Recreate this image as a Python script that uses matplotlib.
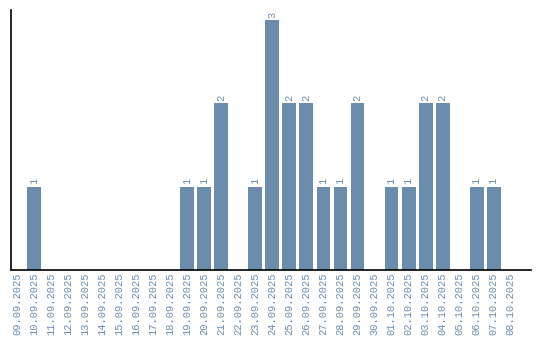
import matplotlib
matplotlib.use("Agg")
import matplotlib.pyplot as plt

dates = ["09.09.2025", "10.09.2025", "11.09.2025", "12.09.2025", "13.09.2025",
         "14.09.2025", "15.09.2025", "16.09.2025", "17.09.2025", "18.09.2025",
         "19.09.2025", "20.09.2025", "21.09.2025", "22.09.2025", "23.09.2025",
         "24.09.2025", "25.09.2025", "26.09.2025", "27.09.2025", "28.09.2025",
         "29.09.2025", "30.09.2025", "01.10.2025", "02.10.2025", "03.10.2025",
         "04.10.2025", "05.10.2025", "06.10.2025", "07.10.2025", "08.10.2025"]
counts = [0, 1, 0, 0, 0, 0, 0, 0, 0, 0,
          1, 1, 2, 0, 1, 3, 2, 2, 1, 1,
          2, 0, 1, 1, 2, 2, 0, 1, 1, 0]

bar_color = "#6b8cab"
font = "Liberation Mono"

fig = plt.figure(figsize=(5.4, 3.4), dpi=100)
ax = fig.add_axes([10.5 / 540, 70 / 340, 520.5 / 540, 260 / 340])

x = list(range(len(dates)))
bars = ax.bar(x, counts, width=0.82, color=bar_color)

for xi, c in zip(x, counts):
    if c > 0:
        ax.text(xi, c + 0.03, str(c), rotation=90, ha="center", va="bottom",
                color=bar_color, fontsize=7.5, family=font)

ax.set_xticks(x)
ax.set_xticklabels(dates, rotation=90, color=bar_color, fontsize=7.5, family=font)
ax.tick_params(axis="x", length=0, pad=2)
ax.set_yticks([])
ax.set_xlim(-0.4, 30.2)
ax.set_ylim(0, 3.12)

for s in ["top", "right"]:
    ax.spines[s].set_visible(False)
for s in ["left", "bottom"]:
    ax.spines[s].set_linewidth(1.2)
    ax.spines[s].set_color("black")

fig.savefig("out.png", dpi=100)
